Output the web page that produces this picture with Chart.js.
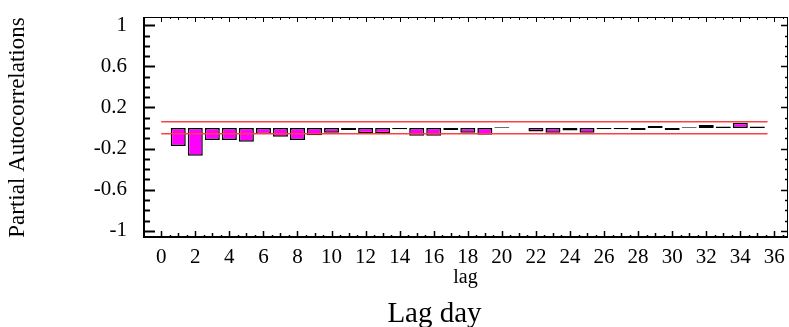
<!DOCTYPE html>
<html><head><meta charset="utf-8">
<script src="https://cdn.jsdelivr.net/npm/chart.js@4.4.1/dist/chart.umd.min.js"></script>
<style>html,body{margin:0;padding:0;background:#fff;} #c{display:block;}</style>
</head><body>
<canvas id="c" width="789" height="327"></canvas>
<script>
// ---- data ----
const lags = [1,2,3,4,5,6,7,8,9,10,11,12,13,14,15,16,17,18,19,20,21,22,23,24,25,26,27,28,29,30,31,32,33,34,35];
const pacf = [-0.175,-0.27,-0.117,-0.117,-0.133,-0.058,-0.084,-0.117,-0.071,-0.045,
              -0.02,-0.05,-0.05,-0.012,-0.075,-0.075,-0.02,-0.045,-0.065,0.008,
              0,-0.035,-0.045,-0.025,-0.045,-0.012,-0.012,-0.02,0.02,-0.02,
              0.008,0.03,0.015,0.052,0.015];
const boundLags = [0, 35.6];
const upperBound = [0.061, 0.061];
const lowerBound = [-0.055, -0.055];
const xTickLabels = [0,2,4,6,8,10,12,14,16,18,20,22,24,26,28,30,32,34,36];
const yTickLabels = [-1,-0.6,-0.2,0.2,0.6,1];
const chartTitle = 'Lag day';

const serif = 'Liberation Serif';

const frameTicks = {
  id: 'frameTicks',
  afterDraw(chart) {
    const {ctx, chartArea: a, scales: {x, y}} = chart;
    ctx.save();
    ctx.strokeStyle = '#000';
    ctx.lineWidth = 1;
    ctx.beginPath();
    ctx.moveTo(a.left, a.top + 0.5); ctx.lineTo(a.right, a.top + 0.5);
    ctx.moveTo(a.right - 0.5, a.top); ctx.lineTo(a.right - 0.5, a.bottom);
    ctx.stroke();
    ctx.lineWidth = 2;
    ctx.beginPath();
    ctx.moveTo(a.left + 1, a.top); ctx.lineTo(a.left + 1, a.bottom);
    ctx.moveTo(a.left, a.bottom - 1); ctx.lineTo(a.right, a.bottom - 1);
    ctx.stroke();
    for (let k = 0; k <= 73; k++) {
      const v = k / 2;
      const px = Math.round(x.getPixelForValue(v)) + 0.5;
      const major = k % 4 === 0, integer = k % 2 === 0;
      const lb = major ? 7 : integer ? 5 : 3;
      const lt = major ? 5 : integer ? 3 : 2;
      ctx.lineWidth = 1.5;
      ctx.beginPath();
      ctx.moveTo(px, a.bottom); ctx.lineTo(px, a.bottom - lb);
      ctx.stroke();
      ctx.lineWidth = 1;
      ctx.beginPath();
      ctx.moveTo(px, a.top); ctx.lineTo(px, a.top + lt);
      ctx.stroke();
    }
    for (let k = -10; k <= 10; k++) {
      const v = k / 10;
      const py = Math.round(y.getPixelForValue(v)) + 0.5;
      const major = (k + 10) % 4 === 0;
      ctx.lineWidth = 2;
      ctx.beginPath();
      ctx.moveTo(a.left, py); ctx.lineTo(a.left + (major ? 12 : 7), py);
      ctx.stroke();
      ctx.lineWidth = 1.5;
      ctx.beginPath();
      ctx.moveTo(a.right, py); ctx.lineTo(a.right - (major ? 7 : 3), py);
      ctx.stroke();
    }
    // bottom title
    ctx.fillStyle = '#000';
    ctx.font = '29px "' + serif + '"';
    ctx.textAlign = 'center';
    ctx.textBaseline = 'alphabetic';
    ctx.fillText(chartTitle, chart.width / 2 + 40, chart.height - 5);
    ctx.restore();
  }
};

new Chart(document.getElementById('c'), {
  type: 'bar',
  data: {
    datasets: [
      {
        type: 'line', order: 1,
        data: boundLags.map((l, i) => ({x: l, y: upperBound[i]})),
        borderColor: '#ff4040', borderWidth: 1.5, pointRadius: 0, fill: false
      },
      {
        type: 'line', order: 1,
        data: boundLags.map((l, i) => ({x: l, y: lowerBound[i]})),
        borderColor: '#ff4040', borderWidth: 1.5, pointRadius: 0, fill: false
      },
      {
        type: 'bar', order: 2,
        data: lags.map((l, i) => ({x: l, y: pacf[i]})),
        backgroundColor: '#ff00ff', borderColor: '#000', borderWidth: 1.5,
        borderSkipped: false, barPercentage: 0.88, categoryPercentage: 1
      }
    ]
  },
  options: {
    responsive: false,
    animation: false,
    layout: {padding: {top: 17, right: 1, left: 0, bottom: 29}},
    plugins: {
      legend: {display: false},
      tooltip: {enabled: false},
      title: {display: false}
    },
    scales: {
      x: {
        type: 'linear', min: -1.07, max: 36.8, offset: false,
        grid: {display: false, drawTicks: false}, border: {display: false},
        afterBuildTicks: s => { s.ticks = xTickLabels.map(v => ({value: v})); },
        ticks: {autoSkip: false, maxRotation: 0, padding: 7, color: '#000',
                font: {family: serif, size: 21}, callback: v => String(v)},
        title: {display: true, text: 'lag', color: '#000',
                font: {family: serif, size: 20}, padding: {top: 0, bottom: 8}},
        afterFit: s => { s.height = 60; s.paddingLeft = 0; s.paddingRight = 0; }
      },
      y: {
        type: 'linear', min: -1.07, max: 1.08,
        grid: {display: false, drawTicks: false}, border: {display: false},
        afterBuildTicks: s => { s.ticks = yTickLabels.map(v => ({value: v})); },
        ticks: {autoSkip: false, padding: 16, color: '#000',
                font: {family: serif, size: 21}, callback: v => String(v)},
        title: {display: true, text: 'Partial Autocorrelations', color: '#000',
                font: {family: serif, size: 23}, padding: {top: 4, bottom: 0}},
        afterFit: s => { s.width = 143; s.paddingTop = 0; s.paddingBottom = 0; }
      }
    }
  },
  plugins: [frameTicks]
});
</script>
</body></html>
